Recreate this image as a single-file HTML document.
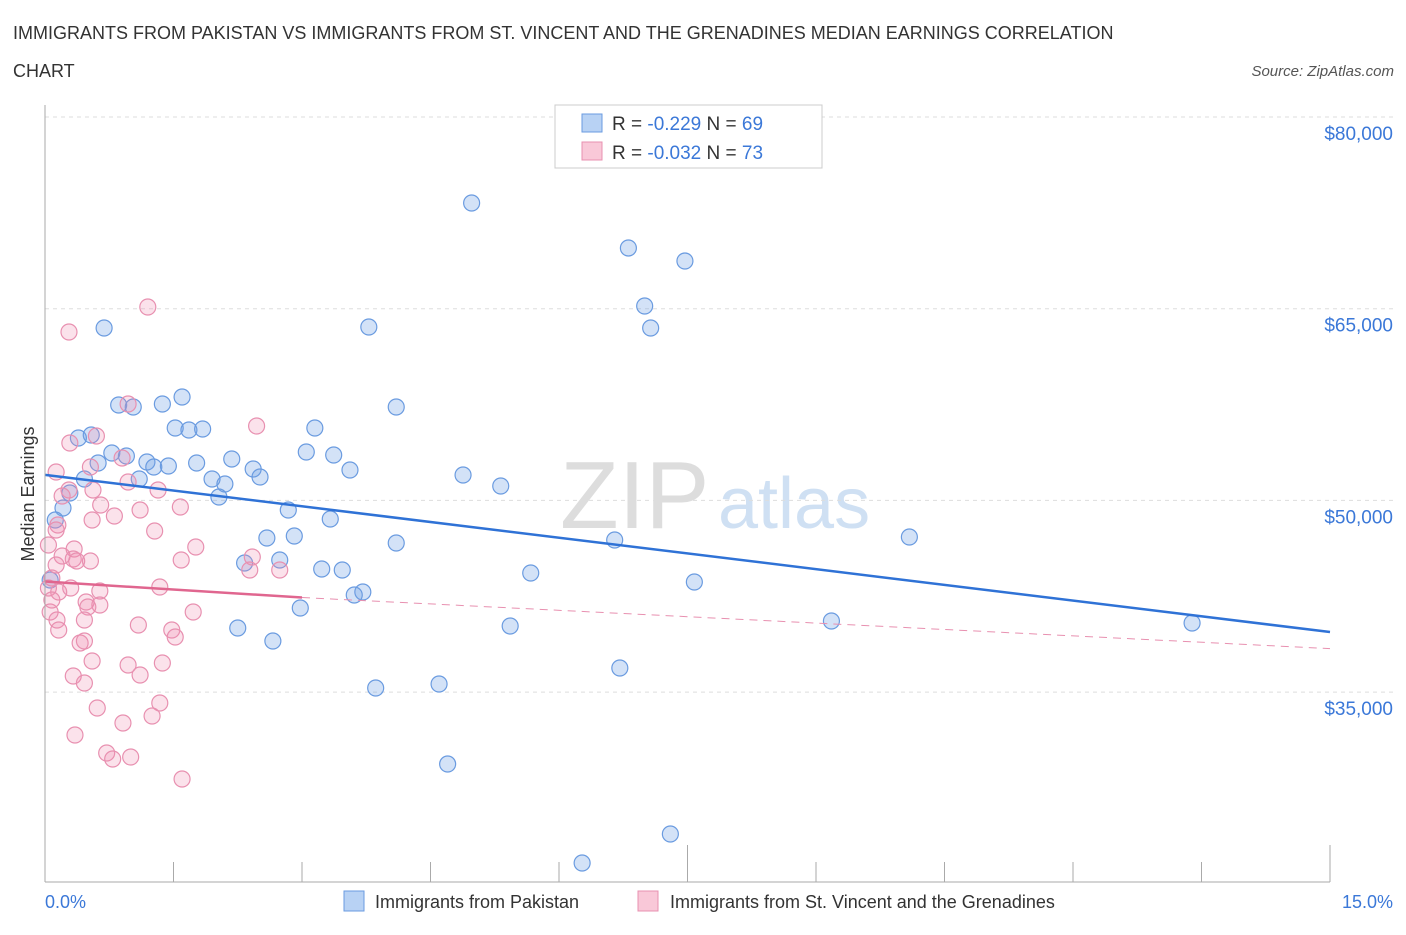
<!DOCTYPE html>
<html><head><meta charset="utf-8"><style>
body{margin:0;background:#fff;font-family:"Liberation Sans",sans-serif;}
svg text{font-family:"Liberation Sans",sans-serif;}
</style></head><body>
<svg id="c" width="1406" height="930" xmlns="http://www.w3.org/2000/svg">
<text x="13" y="39" font-size="18" fill="#333">IMMIGRANTS FROM PAKISTAN VS IMMIGRANTS FROM ST. VINCENT AND THE GRENADINES MEDIAN EARNINGS CORRELATION</text>
<text x="13" y="77" font-size="18" fill="#333">CHART</text>
<text x="1394" y="76" font-size="15" fill="#555" font-style="italic" text-anchor="end">Source: ZipAtlas.com</text>
<text x="560" y="528" font-size="96" fill="#ddd" font-family="Liberation Serif">ZIP</text>
<text x="718" y="528" font-size="72" fill="#cfe0f3">atlas</text>
<text transform="translate(34,494) rotate(-90)" font-size="18" fill="#333" text-anchor="middle">Median Earnings</text>
<g id="grid"></g><g id="pts"></g><g id="lines"></g>
<line x1="45" y1="105" x2="45" y2="882" stroke="#aaa"/>
<line x1="45" y1="882" x2="1330" y2="882" stroke="#aaa"/>
<text x="45" y="908" font-size="18" fill="#3b78d8">0.0%</text>
<text x="1393" y="908" font-size="18" fill="#3b78d8" text-anchor="end">15.0%</text>
<g>
<rect x="555" y="105" width="267" height="63" fill="#fff" stroke="#ccc"/>
<rect x="582" y="114" width="20" height="18" fill="#b8d2f4" stroke="#6a9be0"/>
<rect x="582" y="142" width="20" height="18" fill="#f9c8d8" stroke="#e890b0"/>
<text x="612" y="130" font-size="19" fill="#333">R = <tspan fill="#3b78d8">-0.229</tspan>   N = <tspan fill="#3b78d8">69</tspan></text>
<text x="612" y="159" font-size="19" fill="#333">R = <tspan fill="#3b78d8">-0.032</tspan>   N = <tspan fill="#3b78d8">73</tspan></text>
</g>
<g>
<rect x="344" y="891" width="20" height="20" fill="#b8d2f4" stroke="#6a9be0"/>
<text x="375" y="908" font-size="18" fill="#333">Immigrants from Pakistan</text>
<rect x="638" y="891" width="20" height="20" fill="#f9c8d8" stroke="#e890b0"/>
<text x="670" y="908" font-size="18" fill="#333">Immigrants from St. Vincent and the Grenadines</text>
</g>
</svg>
<script>
const yTicks=[80000,65000,50000,35000];
const yTickLabels=["$80,000","$65,000","$50,000","$35,000"];
const xTicks=[0,1.5,3,4.5,6,7.5,9,10.5,12,13.5,15];
const bluePx=[[472,203],[628,248],[685,261],[645,306],[651,328],[104,328],[369,327],[182,397],[119,405],[133,407],[162,404],[396,407],[175,428],[189,430],[203,429],[315,428],[91,435],[78,438],[112,453],[126,456],[98,463],[147,462],[168,466],[154,467],[197,463],[232,459],[306,452],[334,455],[253,469],[260,477],[350,470],[463,475],[501,486],[84,479],[139,479],[212,479],[225,484],[219,497],[70,493],[63,508],[55,520],[288,510],[330,519],[267,538],[294,536],[396,543],[615,540],[909,537],[245,563],[280,560],[322,569],[342,570],[531,573],[694,582],[363,592],[354,595],[300,608],[238,628],[510,626],[831,621],[1192,623],[273,641],[620,668],[439,684],[376,688],[448,764],[670,834],[582,863],[50,580]];
const pinkPx=[[148,307],[69,332],[257,426],[128,404],[96,436],[70,443],[122,458],[56,472],[90,467],[128,482],[158,490],[69,490],[93,490],[101,505],[62,496],[140,510],[180,507],[114,516],[92,520],[58,525],[56,530],[155,531],[196,547],[74,549],[62,556],[73,559],[90,561],[77,561],[181,560],[252,557],[280,570],[250,570],[56,565],[52,578],[48,588],[59,592],[71,588],[100,591],[160,587],[86,602],[100,605],[88,607],[50,612],[57,620],[84,620],[193,612],[138,625],[172,630],[175,637],[59,630],[80,643],[84,641],[92,661],[128,665],[162,663],[73,676],[140,675],[84,683],[160,703],[97,708],[152,716],[123,723],[75,735],[107,753],[131,757],[113,759],[182,779],[48,545],[52,600]];
// convert estimated reading positions into data values (pct, dollars)
const blueX=bluePx.map(p=>+((p[0]-45)/85.667).toFixed(2));
const blueY=bluePx.map(p=>Math.round(80000-(p[1]-117)/0.01278));
const pinkX=pinkPx.map(p=>+((p[0]-45)/85.667).toFixed(2));
const pinkY=pinkPx.map(p=>Math.round(80000-(p[1]-117)/0.01278));
const blueTrend=[[0,52000],[15,39700]];
const pinkTrend=[[0,43650],[3,42400],[15,38400]];
const X=v=>45+v*85.667, Y=v=>117+(80000-v)*0.01278;
const NS="http://www.w3.org/2000/svg";
function mk(t,a,p){const e=document.createElementNS(NS,t);for(const k in a)e.setAttribute(k,a[k]);p.appendChild(e);return e;}
const g=document.getElementById('grid');
yTicks.forEach((v,i)=>{
 const l=mk('line',{x1:45,x2:1395,y1:Y(v),y2:Y(v),stroke:'#ddd','stroke-dasharray':'4,4'},g);
 
 
 const t=mk('text',{x:1393,y:Y(v)+23,'font-size':19,fill:'#3b78d8','text-anchor':'end'},g);
 t.textContent=yTickLabels[i];
 
 
});
xTicks.forEach(v=>{
 const l=mk('line',{x1:X(v),x2:X(v),y1:882,y2:v%3===0&&v>0&&v<15?882:(v===7.5?845:862),stroke:'#aaa'},g);
 l.setAttribute('y2',v===0?882:(v===7.5||v===15?845:862));
 
 
});
const pg=document.getElementById('pts');
blueX.forEach((x,i)=>{
 const c=mk('circle',{cx:X(x),cy:Y(blueY[i]),r:8,fill:'rgba(110,160,230,0.3)',stroke:'#6a9be0','stroke-width':1.2},pg);
 
 
});
pinkX.forEach((x,i)=>{
 const c=mk('circle',{cx:X(x),cy:Y(pinkY[i]),r:8,fill:'rgba(240,140,175,0.25)',stroke:'#e890b0','stroke-width':1.2},pg);
 
 
});
const lg=document.getElementById('lines');
const bl=mk('line',{x1:X(blueTrend[0][0]),y1:Y(blueTrend[0][1]),x2:X(blueTrend[1][0]),y2:Y(blueTrend[1][1]),stroke:'#2f72d6','stroke-width':2.5},lg);


const pl=mk('line',{x1:X(pinkTrend[0][0]),y1:Y(pinkTrend[0][1]),x2:X(pinkTrend[1][0]),y2:Y(pinkTrend[1][1]),stroke:'#e0668f','stroke-width':2.5},lg);


const pd=mk('line',{x1:X(pinkTrend[1][0]),y1:Y(pinkTrend[1][1]),x2:X(pinkTrend[2][0]),y2:Y(pinkTrend[2][1]),stroke:'#e890b0','stroke-width':1,'stroke-dasharray':'8,6'},lg);


</script>
</body></html>
